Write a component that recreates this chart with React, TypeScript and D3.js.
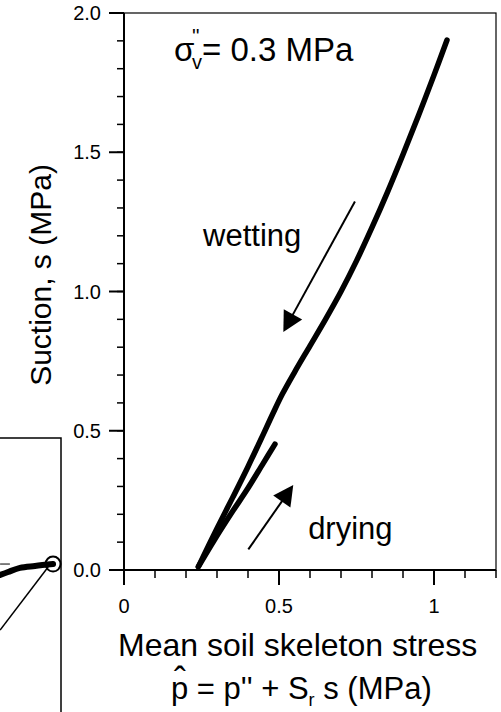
import React from "react";
import * as d3 from "d3";

// ---- Data ----
const wettingP = [1.042, 1.000, 0.950, 0.900, 0.850, 0.800, 0.750, 0.700, 0.650, 0.600, 0.550, 0.510, 0.480, 0.450, 0.400, 0.350, 0.300, 0.240];
const wettingS = [1.903, 1.777, 1.632, 1.492, 1.357, 1.230, 1.110, 1.000, 0.900, 0.805, 0.710, 0.630, 0.561, 0.489, 0.371, 0.259, 0.149, 0.012];
const dryingP = [0.240, 0.290, 0.353, 0.396, 0.449, 0.487];
const dryingS = [0.012, 0.105, 0.215, 0.287, 0.383, 0.452];

const wettingArrow = [[0.745, 1.323], [0.514, 0.855]];
const dryingArrow = [[0.401, 0.074], [0.546, 0.305]];

const xMajorTicks = [0, 0.5, 1];
const xTickLabels = ["0", "0.5", "1"];
const yMajorTicks = [0, 0.5, 1, 1.5, 2];
const yTickLabels = ["0.0", "0.5", "1.0", "1.5", "2.0"];

// left (partially visible) neighbouring chart
const leftThickX = [0.801, 0.827, 0.866, 0.915, 0.974];
const leftThickY = [0.500, 0.511, 0.526, 0.533, 0.540];
const leftThinX = [0.801, 0.958];
const leftThinY = [0.299, 0.529];
const leftShortX = [0.801, 0.833];
const leftShortY = [0.540, 0.540];
const leftMarker = [0.974, 0.540];

const FONT = "'Liberation Sans', Arial, Helvetica, sans-serif";

function arrowParts(x: any, y: any, a: number[][]) {
  const x0 = x(a[0][0]), y0 = y(a[0][1]);
  const x1 = x(a[1][0]), y1 = y(a[1][1]);
  const dx = x1 - x0, dy = y1 - y0;
  const len = Math.hypot(dx, dy);
  const ux = dx / len, uy = dy / len;
  const hl = 20, hw = 10.5;
  const bx = x1 - ux * hl, by = y1 - uy * hl;
  const head = [
    [x1, y1],
    [bx - uy * hw, by + ux * hw],
    [bx + uy * hw, by - ux * hw],
  ];
  return { line: [x0, y0, bx + ux * 2, by + uy * 2], head };
}

export default function App() {
  const W = 501, H = 712;
  const x = d3.scaleLinear().domain([0, 1.2]).range([124, 496]);
  const y = d3.scaleLinear().domain([0, 2]).range([570, 13]);

  const xl = d3.scaleLinear().domain([0, 1]).range([-245, 61]);
  const yl = d3.scaleLinear().domain([0, 1]).range([712, 438]);

  const line = d3.line<number[]>().x((d) => x(d[0])).y((d) => y(d[1])).curve(d3.curveCatmullRom.alpha(0.5));
  const lineL = d3.line<number[]>().x((d) => xl(d[0])).y((d) => yl(d[1])).curve(d3.curveCatmullRom.alpha(0.5));

  const wet = wettingP.map((p, i) => [p, wettingS[i]]);
  const dry = dryingP.map((p, i) => [p, dryingS[i]]);

  const xMinor = d3.range(0, 1.2001, 0.1);
  const yMinor = d3.range(0, 2.0001, 0.1);

  const wa = arrowParts(x, y, wettingArrow);
  const da = arrowParts(x, y, dryingArrow);

  return (
    <svg width={W} height={H} style={{ position: "absolute", left: 0, top: 0, background: "#fff" }} fontFamily={FONT}>
      <rect x={0} y={0} width={W} height={H} fill="#fff" />

      {/* left neighbouring chart (cut off) */}
      <g>
        <rect x={xl(0)} y={yl(1)} width={xl(1) - xl(0)} height={yl(0) - yl(1) + 20} fill="none" stroke="#000" strokeWidth={1.5} />
        <path d={lineL(leftThickX.map((v, i) => [v, leftThickY[i]])) || ""} fill="none" stroke="#000" strokeWidth={6} strokeLinecap="round" />
        <path d={lineL(leftThinX.map((v, i) => [v, leftThinY[i]])) || ""} fill="none" stroke="#000" strokeWidth={1.5} />
        <path d={lineL(leftShortX.map((v, i) => [v, leftShortY[i]])) || ""} fill="none" stroke="#000" strokeWidth={1} />
        <circle cx={xl(leftMarker[0])} cy={yl(leftMarker[1])} r={7.5} fill="none" stroke="#000" strokeWidth={2} />
      </g>

      {/* frame */}
      <rect x={x(0)} y={y(2)} width={x(1.2) - x(0)} height={y(0) - y(2)} fill="none" stroke="#000" strokeWidth={1.2} />
      <line x1={x(0)} x2={x(0)} y1={y(2)} y2={y(0)} stroke="#000" strokeWidth={2} />
      <line x1={x(0)} x2={x(1.2)} y1={y(0)} y2={y(0)} stroke="#000" strokeWidth={2} />

      {/* x ticks */}
      {xMinor.map((v, i) => (
        <line key={"xm" + i} x1={x(v)} x2={x(v)} y1={y(0)} y2={y(0) + 8} stroke="#000" strokeWidth={1.5} />
      ))}
      {xMajorTicks.map((v, i) => (
        <g key={"xM" + i}>
          <line x1={x(v)} x2={x(v)} y1={y(0)} y2={y(0) + 15} stroke="#000" strokeWidth={2} />
          <text x={x(v)} y={613} textAnchor="middle" fontSize={20}>{xTickLabels[i]}</text>
        </g>
      ))}

      {/* y ticks */}
      {yMinor.map((v, i) => (
        <line key={"ym" + i} x1={x(0) - 7} x2={x(0)} y1={y(v)} y2={y(v)} stroke="#000" strokeWidth={1.5} />
      ))}
      {yMajorTicks.map((v, i) => (
        <g key={"yM" + i}>
          <line x1={x(0) - 15} x2={x(0)} y1={y(v)} y2={y(v)} stroke="#000" strokeWidth={2} />
          <text x={101} y={y(v) + 7} textAnchor="end" fontSize={20}>{yTickLabels[i]}</text>
        </g>
      ))}

      {/* curves */}
      <path d={line(wet) || ""} fill="none" stroke="#000" strokeWidth={5.5} strokeLinecap="round" strokeLinejoin="round" />
      <path d={line(dry) || ""} fill="none" stroke="#000" strokeWidth={5.5} strokeLinecap="round" strokeLinejoin="round" />

      {/* arrows */}
      <line x1={wa.line[0]} y1={wa.line[1]} x2={wa.line[2]} y2={wa.line[3]} stroke="#000" strokeWidth={2} />
      <polygon points={wa.head.map((p) => p.join(",")).join(" ")} fill="#000" />
      <line x1={da.line[0]} y1={da.line[1]} x2={da.line[2]} y2={da.line[3]} stroke="#000" strokeWidth={2} />
      <polygon points={da.head.map((p) => p.join(",")).join(" ")} fill="#000" />

      {/* annotations */}
      <text x={x(0.255)} y={y(1.165)} fontSize={31}>wetting</text>
      <text x={x(0.594)} y={y(0.112)} fontSize={31}>drying</text>

      <text fontSize={33}>
        <tspan x={174} y={61}>σ</tspan>
        <tspan x={192} y={43} fontSize={20}>''</tspan>
        <tspan x={192} y={69} fontSize={20}>v</tspan>
        <tspan x={202} y={61}>= 0.3 MPa</tspan>
      </text>

      {/* axis titles */}
      <text transform={`translate(51,${275}) rotate(-90)`} textAnchor="middle" fontSize={30}>Suction, s (MPa)</text>

      <text x={118} y={656} fontSize={32}>Mean soil skeleton stress</text>
      <text fontSize={31}>
        <tspan x={171} y={699}>p</tspan>
        <tspan x={174} y={693} fontSize={36}>ˆ</tspan>
        <tspan x={188.2} y={699}>  = p'' + S</tspan>
        <tspan dy={7} fontSize={18}>r</tspan>
        <tspan dy={-7}> s (MPa)</tspan>
      </text>
    </svg>
  );
}
